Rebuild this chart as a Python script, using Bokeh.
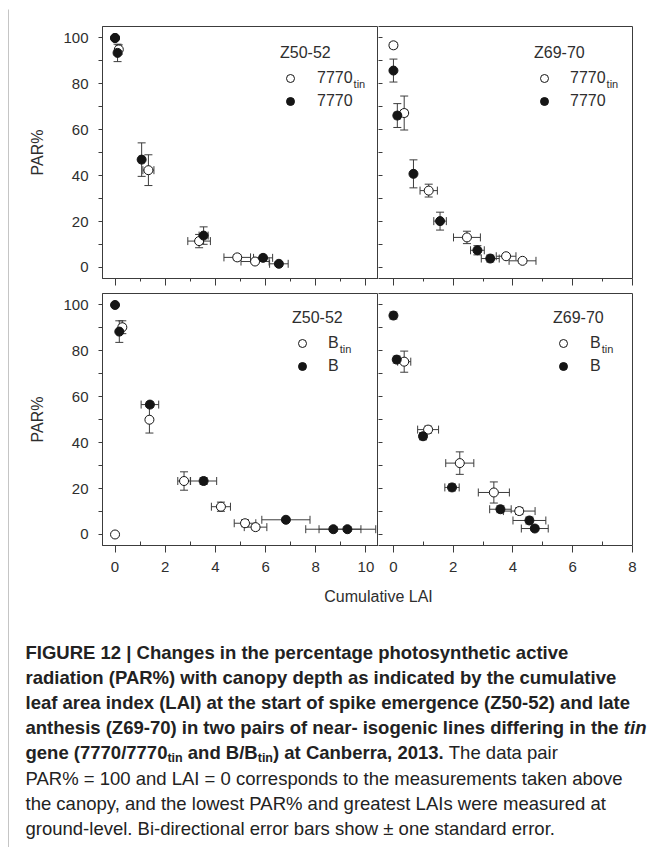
import numpy as np
from bokeh.plotting import figure
from bokeh.models import (Range1d, FixedTicker, ColumnDataSource, Whisker, TeeHead,
                          Legend, LegendItem, Label, CustomLabelingPolicy, LinearAxis)
from bokeh.layouts import row, column
from bokeh.embed import file_html
from bokeh.resources import INLINE

# ---------------- data ----------------
x_ticks_wide = [0, 2, 4, 6, 8, 10]
x_minor_wide = [1, 3, 5, 7, 9]
x_ticks_narrow = [0, 2, 4, 6, 8]
x_minor_narrow = [1, 3, 5, 7]
y_ticks_par = [0, 20, 40, 60, 80, 100]
y_minor_par = [10, 30, 50, 70, 90]

stage_early = "Z50-52"
stage_late = "Z69-70"
line_7770 = "7770"
line_b = "B"
sub_tin = "tin"

# Panel A : Z50-52, 7770tin (open) / 7770 (filled)
a_tin_lai = [0.00, 0.15, 1.33, 3.35, 4.87, 5.58]
a_tin_par = [100.0, 95.0, 42.4, 11.5, 4.4, 2.6]
a_tin_lai_se = [0.00, 0.10, 0.22, 0.45, 0.53, 0.56]
a_tin_par_se = [0.0, 2.0, 6.7, 2.9, 1.2, 1.0]
a_wt_lai = [0.00, 0.10, 1.06, 3.53, 5.90, 6.53]
a_wt_par = [100.0, 93.5, 47.0, 13.9, 4.2, 1.6]
a_wt_lai_se = [0.00, 0.08, 0.10, 0.18, 0.38, 0.37]
a_wt_par_se = [0.0, 3.8, 7.3, 3.8, 1.2, 1.0]

# Panel B : Z69-70, 7770tin (open) / 7770 (filled)
b_tin_lai = [0.00, 0.36, 1.18, 2.46, 3.77, 4.32]
b_tin_par = [96.8, 67.3, 33.5, 13.1, 4.9, 2.9]
b_tin_lai_se = [0.08, 0.10, 0.29, 0.45, 0.33, 0.45]
b_tin_par_se = [1.2, 7.4, 2.8, 2.7, 1.0, 1.0]
b_wt_lai = [0.00, 0.13, 0.67, 1.56, 2.81, 3.24]
b_wt_par = [85.8, 66.2, 40.8, 20.2, 7.5, 3.9]
b_wt_lai_se = [0.05, 0.10, 0.08, 0.21, 0.23, 0.30]
b_wt_par_se = [5.0, 5.2, 6.1, 3.9, 2.0, 1.5]

# Panel C : Z50-52, Btin (open) / B (filled)
c_tin_lai = [0.00, 0.29, 1.37, 2.75, 4.22, 5.18, 5.60]
c_tin_par = [0.0, 90.3, 50.0, 23.3, 12.1, 4.9, 3.2]
c_tin_lai_se = [0.00, 0.10, 0.08, 0.25, 0.38, 0.43, 0.45]
c_tin_par_se = [0.0, 2.8, 5.8, 4.0, 2.0, 1.5, 1.2]
c_wt_lai = [0.00, 0.17, 1.39, 3.53, 6.81, 8.70, 9.26]
c_wt_par = [100.0, 88.4, 56.6, 23.3, 6.4, 2.3, 2.3]
c_wt_lai_se = [0.00, 0.08, 0.35, 0.52, 0.96, 1.10, 1.13]
c_wt_par_se = [0.0, 4.7, 1.2, 1.5, 1.0, 1.0, 1.0]

# Panel D : Z69-70, Btin (open) / B (filled)
d_tin_lai = [0.36, 1.16, 2.22, 3.36, 4.21]
d_tin_par = [75.3, 45.7, 31.1, 18.3, 10.2]
d_tin_lai_se = [0.22, 0.35, 0.47, 0.52, 0.53]
d_tin_par_se = [4.6, 1.5, 4.9, 4.6, 1.5]
d_wt_lai = [0.00, 0.11, 0.99, 1.96, 3.58, 4.55, 4.73]
d_wt_par = [95.4, 76.2, 42.8, 20.5, 11.0, 6.1, 2.6]
d_wt_lai_se = [0.08, 0.08, 0.10, 0.24, 0.36, 0.55, 0.45]
d_wt_par_se = [1.5, 1.5, 1.5, 1.5, 1.5, 1.5, 1.0]

x_title = "Cumulative LAI"
y_title = "PAR%"

caption_lines = [
    [("FIGURE 12 | Changes in the percentage photosynthetic active", "bold", False)],
    [("radiation (PAR%) with canopy depth as indicated by the cumulative", "bold", False)],
    [("leaf area index (LAI) at the start of spike emergence (Z50-52) and late", "bold", False)],
    [("anthesis (Z69-70) in two pairs of near- isogenic lines differing in the ", "bold", False),
     ("tin", "bold italic", False)],
    [("gene (7770/7770", "bold", False), ("tin", "bold", True), (" and B/B", "bold", False),
     ("tin", "bold", True), (") at Canberra, 2013.", "bold", False), (" The data pair", "normal", False)],
    [("PAR% = 100 and LAI = 0 corresponds to the measurements taken above", "normal", False)],
    [("the canopy, and the lowest PAR% and greatest LAIs were measured at", "normal", False)],
    [("ground-level. Bi-directional error bars show \u00b1 one standard error.", "normal", False)],
]

# ---------------- styling ----------------
FONT = "Liberation Sans"
AXC = "#3c3c3c"
TXT = "#2e2e2e"
MK = "#151515"
EB = "#3c3c3c"
BORDER = "#8c8c8c"
Y_RANGE = (-4.8, 105.0)
FRAME_H = 252

# legend geometry
TITLE_H = 18
TITLE_SO = 6
ITEM_H = 20
ITEM_SP = 3
LEG_H = TITLE_H + TITLE_SO + 2 * ITEM_H + ITEM_SP


def _tbl(spec):
    d = {}
    for chars, w in spec:
        for c in chars:
            d[c] = w
    return d


W_REG = _tbl([("abdeghnopqu0123456789", 556), ("cksvxyzJ", 500), ("ft ,./:I", 278),
              ("ijl", 222), ("r()-", 333), ("m", 833), ("w", 722), ("%", 889),
              ("=+\u00b1", 584), ("|", 260), ("ABEKPSVXY", 667), ("CDHNRU", 722),
              ("GOQ", 778), ("FTZ", 611), ("L", 556), ("M", 833), ("W", 944)])
W_BOLD = _tbl([("bdghnopqu", 611), ("acekvsxy0123456789", 556), ("z", 500),
               ("ft()-", 333), ("r", 389), ("ijl ,./:I", 278), ("m", 889), ("w", 778),
               ("%", 889), ("|", 280), ("ABCDHKNRU", 722), ("EPSVXY", 667),
               ("FTZL", 611), ("GOQ", 778), ("J", 556), ("M", 833), ("W", 944)])


def text_w(s, size, style="normal"):
    t = W_BOLD if "bold" in style else W_REG
    return sum(t.get(c, 556) for c in s) * size / 1000.0


def hide_labels(ax):
    # ticks only, no tick labels on shared inner axes
    ax.major_label_policy = CustomLabelingPolicy(
        code="for (const i of indices) { indices.unset(i) }\nreturn indices")
    ax.major_label_text_font_size = "0px"
    ax.major_label_standoff = 0


def style_axis(ax):
    ax.axis_line_color = AXC
    ax.major_tick_line_color = AXC
    ax.minor_tick_line_color = AXC
    ax.major_label_text_font = FONT
    ax.major_label_text_font_size = "15px"
    ax.major_label_text_color = TXT


def edge_axis():
    # a bare axis line used to draw one side of the frame
    ax = LinearAxis(ticker=FixedTicker(ticks=[], minor_ticks=[]), axis_line_color=AXC,
                    major_tick_out=0, major_tick_in=0, minor_tick_out=0, minor_tick_in=0)
    hide_labels(ax)
    return ax


def make_panel(w, h, mb, xr, xt, xm, left_labels, bottom_labels):
    p = figure(width=w, height=h, x_range=Range1d(*xr), y_range=Range1d(*Y_RANGE),
               output_backend="svg", toolbar_location=None,
               min_border_left=mb[0], min_border_right=mb[1],
               min_border_top=mb[2], min_border_bottom=mb[3])
    p.grid.visible = False
    p.outline_line_color = AXC
    p.background_fill_color = "white"
    p.border_fill_color = "white"
    xa = p.xaxis[0]
    ya = p.yaxis[0]
    xa.ticker = FixedTicker(ticks=xt, minor_ticks=xm)
    ya.ticker = FixedTicker(ticks=y_ticks_par, minor_ticks=y_minor_par)
    style_axis(xa)
    style_axis(ya)
    xa.major_tick_out = 7
    xa.major_tick_in = 0
    if bottom_labels:
        xa.minor_tick_out = 0
        xa.minor_tick_in = 4
        xa.major_label_standoff = 9
    else:
        xa.minor_tick_out = 3
        xa.minor_tick_in = 0
        hide_labels(xa)
    if left_labels:
        ya.major_tick_out = 4
        ya.major_tick_in = 0
        ya.minor_tick_out = 4
        ya.minor_tick_in = 0
        ya.major_label_standoff = 10
        ya.axis_label = y_title
        ya.axis_label_text_font = FONT
        ya.axis_label_text_font_size = "16px"
        ya.axis_label_text_font_style = "normal"
        ya.axis_label_text_color = TXT
        ya.axis_label_standoff = 14
    else:
        ya.major_tick_out = 0
        ya.major_tick_in = 4
        ya.minor_tick_out = 0
        ya.minor_tick_in = 4
        hide_labels(ya)
        # the shared left edge is drawn by the neighbouring panel: draw only top and right
        p.outline_line_color = None
        ya.axis_line_color = None
        p.add_layout(edge_axis(), "above")
        p.add_layout(edge_axis(), "right")
    return p


def add_series(p, lai, par, lai_se, par_se, filled):
    lai = np.asarray(lai, float)
    par = np.asarray(par, float)
    lse = np.asarray(lai_se, float)
    pse = np.asarray(par_se, float)
    kv = pse > 0
    src_v = ColumnDataSource(dict(x=lai[kv], lo=par[kv] - pse[kv], hi=par[kv] + pse[kv]))
    wv = Whisker(source=src_v, base="x", lower="lo", upper="hi", dimension="height",
                 line_color=EB, line_width=1,
                 upper_head=TeeHead(size=8, line_color=EB, line_width=1),
                 lower_head=TeeHead(size=8, line_color=EB, line_width=1))
    wv.level = "underlay"
    p.add_layout(wv)
    kh = lse > 0
    src_h = ColumnDataSource(dict(y=par[kh], lo=lai[kh] - lse[kh], hi=lai[kh] + lse[kh]))
    wh = Whisker(source=src_h, base="y", lower="lo", upper="hi", dimension="width",
                 line_color=EB, line_width=1,
                 upper_head=TeeHead(size=8, line_color=EB, line_width=1),
                 lower_head=TeeHead(size=8, line_color=EB, line_width=1))
    wh.level = "underlay"
    p.add_layout(wh)
    src = ColumnDataSource(dict(x=lai, y=par))
    return p.scatter("x", "y", source=src, marker="circle", size=9,
                     fill_color=MK if filled else "white", line_color=MK, line_width=1)


def add_legend(p, r_open, r_fill, title, base_label, left_rel, top_rel, standoff):
    vy = FRAME_H - top_rel - LEG_H
    leg = Legend(items=[LegendItem(label=base_label, renderers=[r_open]),
                        LegendItem(label=base_label, renderers=[r_fill])],
                 title=title, location=(left_rel, vy),
                 padding=0, margin=0, spacing=ITEM_SP,
                 glyph_width=20, glyph_height=ITEM_H, label_height=ITEM_H,
                 label_standoff=standoff, title_standoff=TITLE_SO,
                 border_line_color=None, background_fill_alpha=0,
                 title_text_font=FONT, title_text_font_size="16px",
                 title_text_font_style="normal", title_text_color=TXT,
                 label_text_font=FONT, label_text_font_size="16px", label_text_color=TXT)
    p.add_layout(leg)
    item1_center = top_rel + TITLE_H + TITLE_SO + ITEM_H / 2
    sx = left_rel + 20 + standoff + text_w(base_label, 16) + 0.5
    sy = FRAME_H - item1_center - 5
    p.add_layout(Label(x=sx, y=sy, x_units="screen", y_units="screen", text=sub_tin,
                       text_font=FONT, text_font_size="11px", text_color=TXT,
                       text_baseline="middle", text_align="left"))


# ---------------- panels ----------------
p_a = make_panel(369, 284, (93, 0, 17, 15), (-0.5, 10.5), x_ticks_wide, x_minor_wide, True, False)
ra_o = add_series(p_a, a_tin_lai, a_tin_par, a_tin_lai_se, a_tin_par_se, False)
ra_f = add_series(p_a, a_wt_lai, a_wt_par, a_wt_lai_se, a_wt_par_se, True)
add_legend(p_a, ra_o, ra_f, stage_early, line_7770, 178, 18, 17)

p_b = make_panel(279, 284, (0, 25, 17, 15), (-0.5, 8.0), x_ticks_narrow, x_minor_narrow, False, False)
rb_o = add_series(p_b, b_tin_lai, b_tin_par, b_tin_lai_se, b_tin_par_se, False)
rb_f = add_series(p_b, b_wt_lai, b_wt_par, b_wt_lai_se, b_wt_par_se, True)
add_legend(p_b, rb_o, rb_f, stage_late, line_7770, 156, 18, 16)

p_c = make_panel(369, 292, (93, 0, 0, 40), (-0.5, 10.5), x_ticks_wide, x_minor_wide, True, True)
rc_o = add_series(p_c, c_tin_lai, c_tin_par, c_tin_lai_se, c_tin_par_se, False)
rc_f = add_series(p_c, c_wt_lai, c_wt_par, c_wt_lai_se, c_wt_par_se, True)
add_legend(p_c, rc_o, rc_f, stage_early, line_b, 190, 16, 16)

p_d = make_panel(279, 292, (0, 25, 0, 40), (-0.5, 8.0), x_ticks_narrow, x_minor_narrow, False, True)
rd_o = add_series(p_d, d_tin_lai, d_tin_par, d_tin_lai_se, d_tin_par_se, False)
rd_f = add_series(p_d, d_wt_lai, d_wt_par, d_wt_lai_se, d_wt_par_se, True)
add_legend(p_d, rd_o, rd_f, stage_late, line_b, 175, 16, 17)


# ---------------- caption area ----------------
CAP_W, CAP_H = 648, 262
cap = figure(width=CAP_W, height=CAP_H, x_range=Range1d(0, CAP_W), y_range=Range1d(CAP_H, 0),
             output_backend="svg", toolbar_location=None, x_axis_location=None,
             y_axis_location=None, min_border_left=0, min_border_right=0,
             min_border_top=0, min_border_bottom=0)
cap.grid.visible = False
cap.outline_line_color = None
cap.background_fill_color = "white"
cap.border_fill_color = "white"

cap.add_layout(Label(x=369, y=11, text=x_title, text_font=FONT, text_font_size="16px",
                     text_color=TXT, text_align="center", text_baseline="middle"))

CAP_SIZE = 18.5
SUB_SIZE = 12.5
cap_x0 = 16
cap_base0 = 66.5
cap_lead = 25.2
for i, segs in enumerate(caption_lines):
    x = cap_x0
    base = cap_base0 + i * cap_lead
    for txt, style, is_sub in segs:
        size = SUB_SIZE if is_sub else CAP_SIZE
        lead_sp = len(txt) - len(txt.lstrip(" "))
        if lead_sp:
            x += text_w(" " * lead_sp, size, style)
            txt = txt.lstrip(" ")
        shown = txt.rstrip(" ")
        cap.add_layout(Label(x=x, y=base + (5 if is_sub else 0), text=shown,
                             text_font=FONT, text_font_size=f"{size}px",
                             text_font_style=style, text_color="#222222",
                             text_align="left", text_baseline="alphabetic"))
        x += text_w(txt, size, style)


# ---------------- outer border strips ----------------
def strip(w, h, mbl, mbt):
    s = figure(width=w, height=h, output_backend="svg", toolbar_location=None,
               x_axis_location=None, y_axis_location=None,
               min_border_left=mbl, min_border_right=0, min_border_top=mbt, min_border_bottom=0)
    s.grid.visible = False
    s.outline_line_color = None
    s.background_fill_color = BORDER
    s.border_fill_color = "white"
    return s


top_strip = strip(657, 9, 8, 8)
left_strip = strip(9, 838, 8, 0)

main = column(row(p_a, p_b, spacing=0), row(p_c, p_d, spacing=0), cap, spacing=0)
layout = column(top_strip, row(left_strip, main, spacing=0), spacing=0)

open("out.html", "w").write(file_html(layout, INLINE))
